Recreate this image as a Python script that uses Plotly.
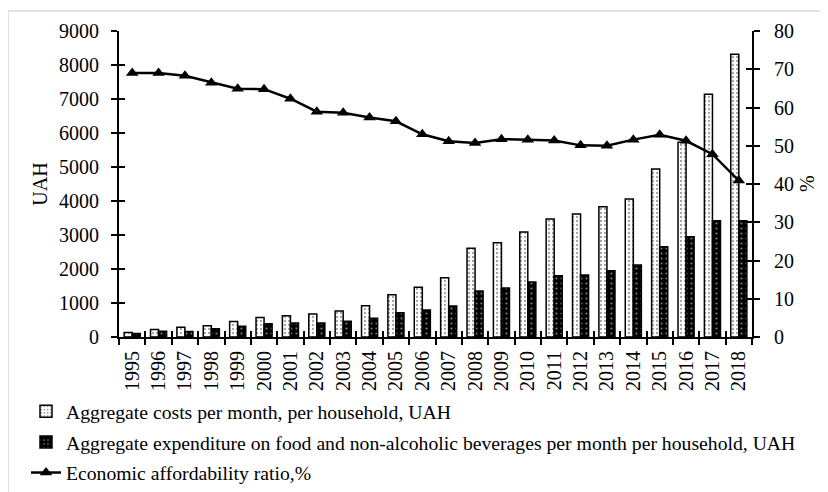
import plotly.graph_objects as go

years = [str(y) for y in range(1995, 2019)]
costs = [129, 218, 285, 330, 459, 577, 626, 676, 765, 920, 1244, 1462, 1744,
         2609, 2774, 3088, 3470, 3618, 3832, 4059, 4941, 5726, 7138, 8315]
food = [100, 168, 160, 244, 314, 390, 412, 412, 461, 550, 715, 794, 912,
        1353, 1441, 1618, 1803, 1824, 1950, 2118, 2656, 2950, 3421, 3421]
ratio = [69.0, 69.0, 68.3, 66.5, 64.9, 64.8, 62.3, 58.9, 58.6, 57.4, 56.4, 53.0,
         51.2, 50.7, 51.7, 51.6, 51.4, 50.1, 50.0, 51.6, 52.9, 51.3, 47.8, 40.9]

name_costs = "Aggregate costs per month, per household, UAH"
name_food = "Aggregate expenditure on food and non-alcoholic beverages per month per household, UAH"
name_ratio = "Economic affordability ratio,%"

FONT = "Liberation Serif, Times New Roman, serif"
FS = 20

fig = go.Figure()
fig.add_trace(go.Bar(
    x=years, y=costs, name=name_costs, legendgroup="a",
    marker=dict(color="white", line=dict(color="black", width=1.5),
                pattern=dict(shape=".", fgcolor="#444", bgcolor="white",
                             size=4, solidity=0.25)),
))
fig.add_trace(go.Bar(
    x=years, y=food, name=name_food, legendgroup="b",
    marker=dict(color="black", line=dict(color="black", width=1.5),
                pattern=dict(shape=".", fgcolor="white", bgcolor="black",
                             size=5, solidity=0.15)),
))
fig.add_trace(go.Scatter(
    x=years, y=ratio, name=name_ratio, yaxis="y2", mode="lines+markers", legendgroup="c",
    line=dict(color="black", width=2.5),
    marker=dict(symbol="triangle-up", size=11, color="black"),
))

# page offset of the figure in the rendered page (body margin)
OFFX, OFFY = 8, 8
W, H = 828, 492
L, R, T, B = 119 - OFFX, 752 - OFFX, 31 - OFFY, 337 - OFFY
pw, ph = R - L, B - T

def px(xp):
    return (xp - OFFX - L) / pw

def py(yp):
    return (B - (yp - OFFY)) / ph

axis_common = dict(showline=True, linecolor="black", linewidth=2,
                   ticks="outside", ticklen=6, tickwidth=2, tickcolor="black",
                   showgrid=False, zeroline=False,
                   tickfont=dict(family=FONT, size=FS, color="black"))

fig.update_layout(
    width=W, height=H,
    margin=dict(l=L, r=W - R, t=T, b=H - B, autoexpand=False),
    paper_bgcolor="white", plot_bgcolor="white",
    barmode="group", bargap=0.39, bargroupgap=0,
    font=dict(family=FONT, size=FS, color="black"),
    xaxis=dict(**axis_common, type="category", tickangle=-90,
               tickson="boundaries", range=[-0.5, 23.5], ticklabelstandoff=4),
    yaxis=dict(**axis_common, range=[0, 9000], dtick=1000, ticklabelstandoff=8,
               title=dict(text="UAH", font=dict(family=FONT, size=FS), standoff=6)),
    yaxis2=dict(**axis_common, range=[0, 80], dtick=10, overlaying="y", side="right",
                ticklabelstandoff=10),
    xaxis3=dict(overlaying="x", range=[-0.5, 23.5], tickvals=[i - 0.5 for i in range(25)],
                ticks="inside", ticklen=6, tickwidth=2, tickcolor="black",
                showticklabels=False, showgrid=False, zeroline=False, showline=False),
    yaxis3=dict(overlaying="y", range=[0, 9000], dtick=1000, ticks="inside", ticklen=6,
                tickwidth=2, tickcolor="black", showticklabels=False, showgrid=False,
                zeroline=False, showline=False),
    yaxis4=dict(overlaying="y", side="right", range=[0, 80], dtick=10, ticks="inside",
                ticklen=6, tickwidth=2, tickcolor="black", showticklabels=False,
                showgrid=False, zeroline=False, showline=False),
    legend=dict(x=px(26), y=py(392), xanchor="left", yanchor="top",
                orientation="v", font=dict(family=FONT, size=19.7, color="black"),
                bgcolor="rgba(0,0,0,0)", itemwidth=30, tracegroupgap=2),
    showlegend=True,
    annotations=[dict(text="%", textangle=-90, xref="paper", yref="paper",
                      x=px(807), y=0.5, showarrow=False, xanchor="center", yanchor="middle",
                      font=dict(family=FONT, size=FS, color="black"))],
    shapes=[dict(type="rect", xref="paper", yref="paper",
                 x0=px(8), x1=px(822), y0=py(510), y1=py(11),
                 line=dict(color="#d9d9d9", width=1.5), layer="below")],
)
# invisible helper traces so the overlay tick axes are rendered
fig.add_trace(go.Scatter(x=[0], y=[None], xaxis="x3", yaxis="y3", showlegend=False,
                         hoverinfo="skip", mode="markers", marker=dict(opacity=0)))
fig.add_trace(go.Scatter(x=[0], y=[None], xaxis="x3", yaxis="y4", showlegend=False,
                         hoverinfo="skip", mode="markers", marker=dict(opacity=0)))

fig.write_html("out.html")
